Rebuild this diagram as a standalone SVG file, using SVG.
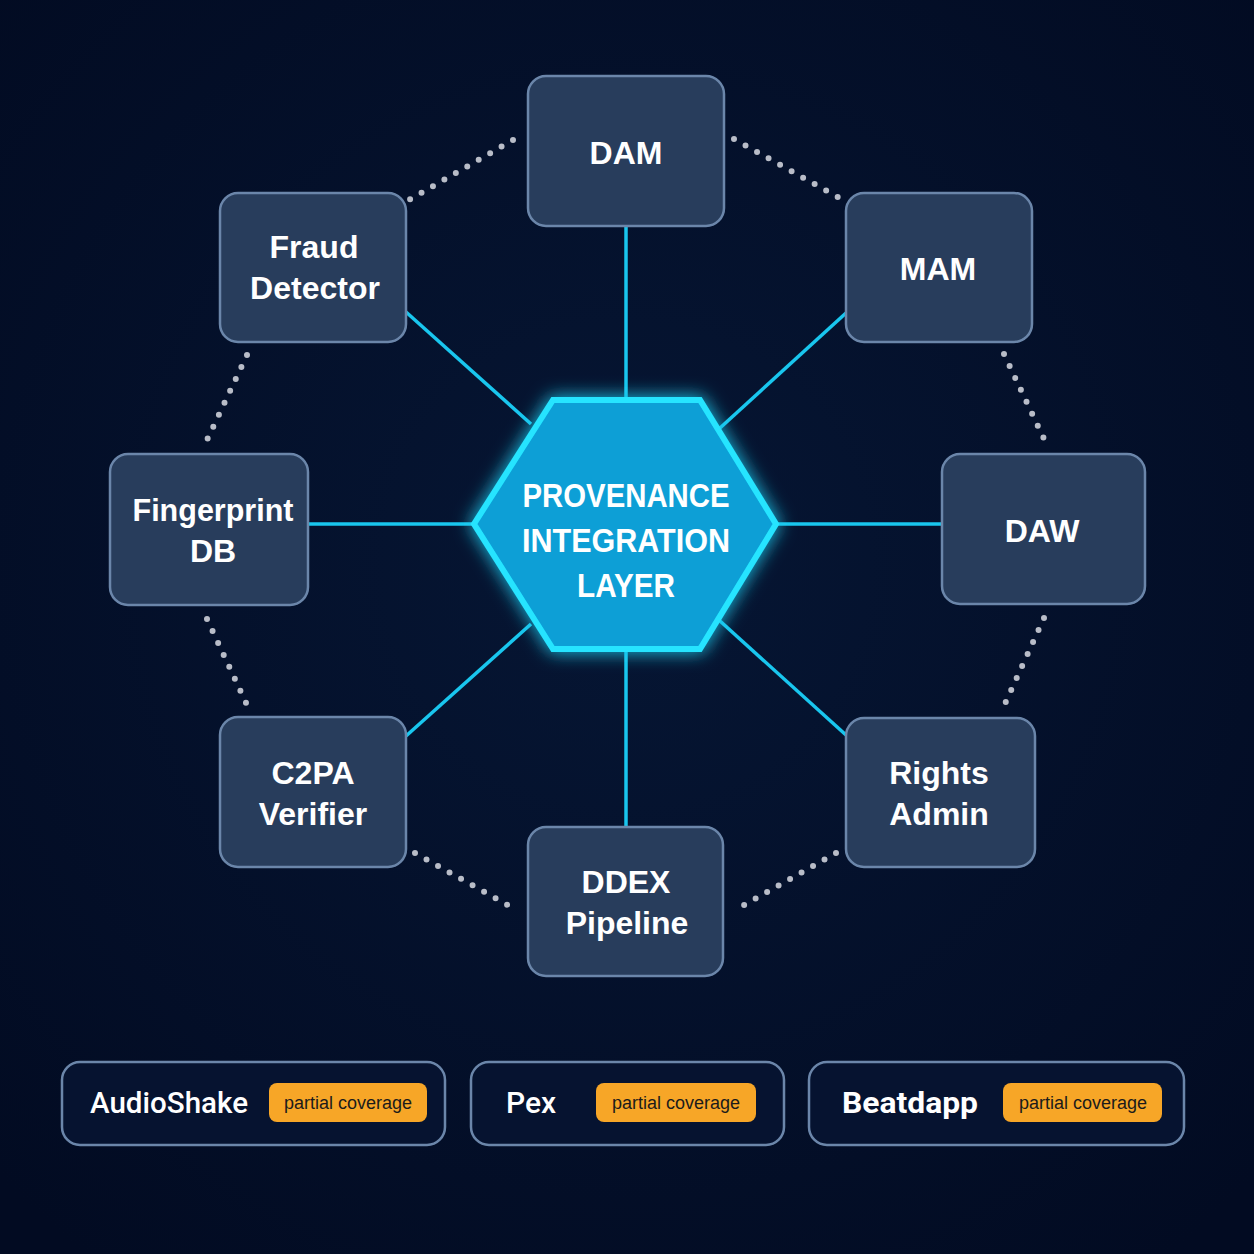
<svg xmlns="http://www.w3.org/2000/svg" width="1254" height="1254" viewBox="0 0 1254 1254">
<defs>
<style>
.node rect{fill:#283d5c;stroke:#6b86aa;stroke-width:2.5}
.lbl{font-family:"Liberation Sans",Arial,sans-serif;font-weight:700;font-size:32px;fill:#ffffff;text-anchor:middle}
.hub{font-family:"Liberation Sans",Arial,sans-serif;font-weight:700;font-size:33px;fill:#ffffff;text-anchor:middle}
.link{stroke:#19c6ee;stroke-width:3.5;fill:none}
.dots{stroke:#b9bdc8;stroke-width:6;stroke-linecap:round;stroke-dasharray:0 13.2;fill:none}
.card{fill:#061330;stroke:#6b86aa;stroke-width:2.5}
.vendor{font-family:Roboto,"Liberation Sans",Arial,sans-serif;font-size:30px;fill:#ffffff}
.badge{fill:#f7a627}
.btxt{font-family:"Liberation Sans",Arial,sans-serif;font-size:18px;fill:#1b1b1b;text-anchor:middle}
</style>
<filter id="glow" x="-30%" y="-30%" width="160%" height="160%">
<feGaussianBlur stdDeviation="9" result="b"/>
<feMerge><feMergeNode in="b"/><feMergeNode in="SourceGraphic"/></feMerge>
</filter>
<radialGradient id="bg" cx="50%" cy="45%" r="70%">
<stop offset="0" stop-color="#061634"/>
<stop offset="1" stop-color="#020b22"/>
</radialGradient>
</defs>
<rect width="1254" height="1254" fill="url(#bg)"/>

<g id="connectors">
<line class="link" x1="626" y1="226" x2="626" y2="400"/>
<line class="link" x1="846" y1="313" x2="720" y2="428"/>
<line class="link" x1="776" y1="524" x2="942" y2="524"/>
<line class="link" x1="720" y1="621" x2="846" y2="735"/>
<line class="link" x1="626" y1="649" x2="626" y2="827"/>
<line class="link" x1="531" y1="624" x2="406" y2="736"/>
<line class="link" x1="308" y1="524" x2="474" y2="524"/>
<line class="link" x1="406" y1="312" x2="531" y2="424"/>
<line class="dots" x1="734" y1="139" x2="843" y2="200"/>
<line class="dots" x1="513" y1="140" x2="409" y2="200"/>
<line class="dots" x1="1004" y1="354" x2="1045" y2="441"/>
<line class="dots" x1="247" y1="355" x2="207" y2="440"/>
<line class="dots" x1="207" y1="619" x2="247" y2="705"/>
<line class="dots" x1="1044" y1="618" x2="1004" y2="706"/>
<line class="dots" x1="415" y1="853" x2="513" y2="908"/>
<line class="dots" x1="836" y1="853" x2="739" y2="908"/>
</g>

<g id="hub">
<polygon points="474,524 553,400 700,400 776,524 700,649 553,649" fill="#0a9fd6" stroke="#25e4ff" stroke-width="6" filter="url(#glow)"/>
<text class="hub" x="626" y="507" textLength="207" lengthAdjust="spacingAndGlyphs">PROVENANCE</text>
<text class="hub" x="626" y="552" textLength="208" lengthAdjust="spacingAndGlyphs">INTEGRATION</text>
<text class="hub" x="626" y="597" textLength="98" lengthAdjust="spacingAndGlyphs">LAYER</text>
</g>

<g id="dam" class="node"><rect x="528" y="76" width="196" height="150" rx="18"/><text class="lbl" x="626" y="164">DAM</text></g>
<g id="mam" class="node"><rect x="846" y="193" width="186" height="149" rx="18"/><text class="lbl" x="938" y="280">MAM</text></g>
<g id="daw" class="node"><rect x="942" y="454" width="203" height="150" rx="18"/><text class="lbl" x="1042" y="542">DAW</text></g>
<g id="rights-admin" class="node"><rect x="846" y="718" width="189" height="149" rx="18"/><text class="lbl" x="939" y="784">Rights</text><text class="lbl" x="939" y="825">Admin</text></g>
<g id="ddex-pipeline" class="node"><rect x="528" y="827" width="195" height="149" rx="18"/><text class="lbl" x="626" y="893">DDEX</text><text class="lbl" x="627" y="934">Pipeline</text></g>
<g id="c2pa-verifier" class="node"><rect x="220" y="717" width="186" height="150" rx="18"/><text class="lbl" x="313" y="784">C2PA</text><text class="lbl" x="313" y="825">Verifier</text></g>
<g id="fingerprint-db" class="node"><rect x="110" y="454" width="198" height="151" rx="18"/><text class="lbl" x="213" y="521" textLength="161" lengthAdjust="spacingAndGlyphs">Fingerprint</text><text class="lbl" x="213" y="562">DB</text></g>
<g id="fraud-detector" class="node"><rect x="220" y="193" width="186" height="149" rx="18"/><text class="lbl" x="314" y="258">Fraud</text><text class="lbl" x="315" y="299">Detector</text></g>

<g id="audioshake">
<rect class="card" x="62" y="1062" width="383" height="83" rx="18"/>
<text class="vendor" x="90" y="1113" font-weight="500" textLength="158" lengthAdjust="spacingAndGlyphs">AudioShake</text>
<rect class="badge" x="269" y="1083" width="158" height="39" rx="8"/>
<text class="btxt" x="348" y="1109">partial coverage</text>
</g>
<g id="pex">
<rect class="card" x="471" y="1062" width="313" height="83" rx="18"/>
<text class="vendor" x="506" y="1113" font-weight="500">Pex</text>
<rect class="badge" x="596" y="1083" width="160" height="39" rx="8"/>
<text class="btxt" x="676" y="1109">partial coverage</text>
</g>
<g id="beatdapp">
<rect class="card" x="809" y="1062" width="375" height="83" rx="18"/>
<text class="vendor" x="842" y="1113" font-weight="700" textLength="136" lengthAdjust="spacingAndGlyphs">Beatdapp</text>
<rect class="badge" x="1003" y="1083" width="159" height="39" rx="8"/>
<text class="btxt" x="1083" y="1109">partial coverage</text>
</g>
</svg>
